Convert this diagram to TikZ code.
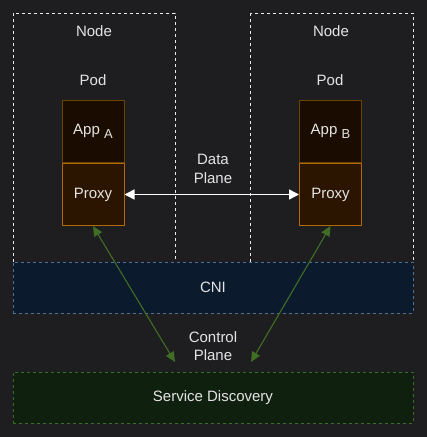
\documentclass[tikz,border=0pt]{standalone}
\usepackage{fontspec}
\setmainfont{Liberation Sans}
\usetikzlibrary{positioning, arrows.meta}

\definecolor{bgdark}{HTML}{1E1E20}
\definecolor{txtgrey}{HTML}{E4E4E4}
\definecolor{appfill}{HTML}{1A0D00}
\definecolor{appline}{HTML}{6B4500}
\definecolor{proxyfill}{HTML}{2C1500}
\definecolor{proxyline}{HTML}{B06A00}
\definecolor{cnifill}{HTML}{0C1A2E}
\definecolor{cniline}{HTML}{52729A}
\definecolor{sdfill}{HTML}{10200F}
\definecolor{sdline}{HTML}{3D6B2C}
\definecolor{ctrlgreen}{HTML}{3F6E24}

\tikzset{
every picture/.style={
line width=1pt
}}

\begin{document}
\begin{tikzpicture}[x=1pt, y=-1pt,
font=\fontsize{15}{18.5}\selectfont, text=txtgrey,
label/.style = {align=center, inner sep=0pt},
nodebox/.style = {draw=white!92!black, dash pattern=on 3pt off 3pt},
appbox/.style = {rectangle, draw=appline, fill=appfill, minimum width=62pt, minimum height=62pt, inner sep=0pt},
proxybox/.style = {rectangle, draw=proxyline, fill=proxyfill, minimum width=62pt, minimum height=62pt, inner sep=0pt},
layer/.style = {rectangle, minimum width=400pt, minimum height=51pt, inner sep=0pt, dash pattern=on 3pt off 3pt},
data/.style = {white, line width=1.5pt, {Triangle[length=10pt, width=10pt]}-{Triangle[length=10pt, width=10pt]}},
ctrl/.style = {ctrlgreen, line width=1.1pt, {Triangle[length=10pt, width=9pt]}-{Triangle[length=10pt, width=9pt]}}]

  \fill[bgdark] (0,0) rectangle (427,437);
  \useasboundingbox (0,0) rectangle (427,437);

  % nodes of the cluster
  \draw[nodebox] (13,13) rectangle (175,262);
  \draw[nodebox] (250,13) rectangle (413,262);

  \node[label] (node_a) at (94,31) {Node};
  \node[label] (node_b) at (331,31) {Node};
  \node[label] (pod_a) at (93,80) {Pod};
  \node[label] (pod_b) at (330,80) {Pod};

  \node[appbox] (app_a) at (93,131.5) {App {\fontsize{13}{13}\selectfont\raisebox{-4pt}{A}}};
  \node[proxybox, below=0pt of app_a] (proxy_a) {Proxy};
  \node[appbox] (app_b) at (330.5,131.5) {App {\fontsize{13}{13}\selectfont\raisebox{-4pt}{B}}};
  \node[proxybox, below=0pt of app_b] (proxy_b) {Proxy};

  % layers
  \node[layer, draw=cniline, fill=cnifill] (cni) at (213,287.5) {CNI};
  \node[layer, draw=sdline, fill=sdfill] (sd) at (213,397.5) {Service Discovery};

  % data plane
  \draw[data] (proxy_a) -- (proxy_b);
  \node[label] (data_lbl) at (213,169) {Data\\Plane};

  % control plane
  \coordinate (ctrl_a) at (175,362);
  \coordinate (ctrl_b) at (251,362);
  \draw[ctrl] (proxy_a.south) -- (ctrl_a);
  \draw[ctrl] (proxy_b.south) -- (ctrl_b);
  \node[label] (ctrl_lbl) at (213,346) {Control\\Plane};

\end{tikzpicture}
\end{document}
